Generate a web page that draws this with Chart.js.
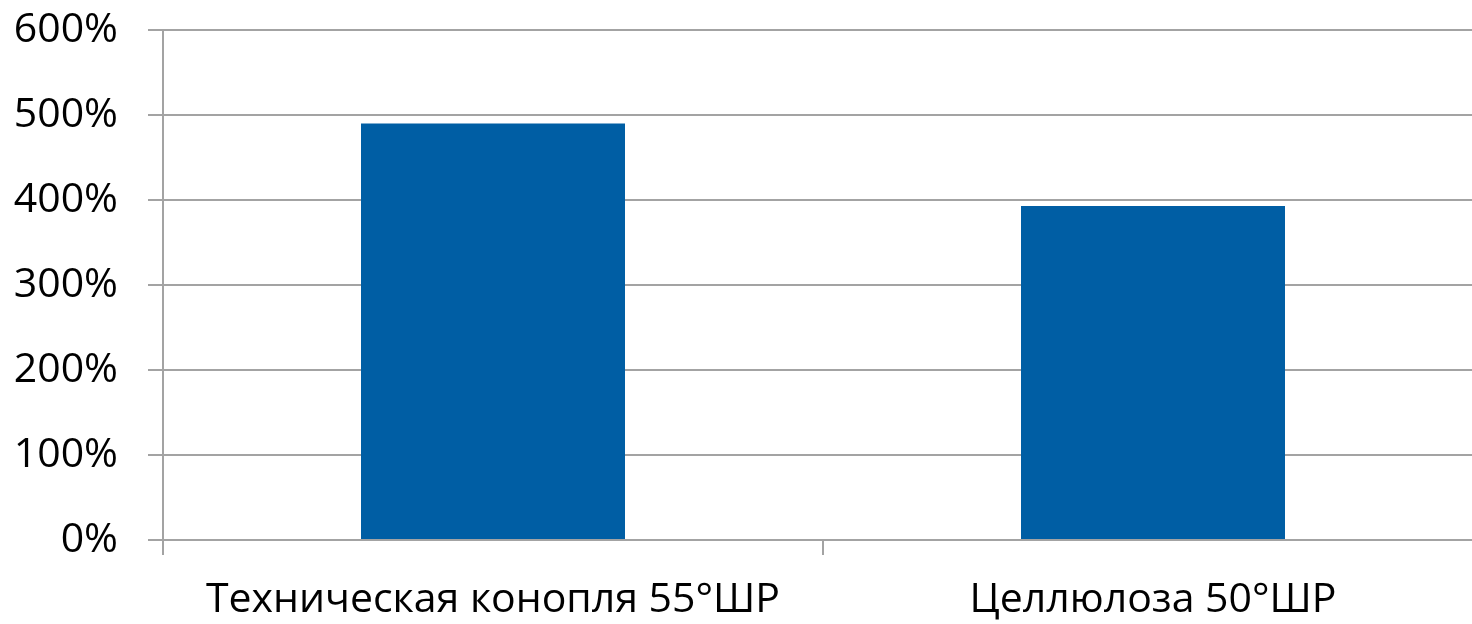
<!DOCTYPE html>
<html>
<head>
<meta charset="utf-8">
<script src="https://cdn.jsdelivr.net/npm/chart.js@4"></script>
<style>
    html, body { margin: 0; padding: 0; background: #fff; overflow: hidden; }
    /* 圖表右側略超出畫面 */
    #wrap { width: 1483px; height: 624px; }
</style>
</head>
<body>
<div id="wrap"><canvas id="myChart"></canvas></div>
<script>
// 資料區 start↓↓------------------------------------
const categories = ['Техническая конопля 55°ШР', 'Целлюлоза 50°ШР'];
const values = [490, 393]; // %
const yTicks = [0, 100, 200, 300, 400, 500, 600];
// 資料區 end↑↑------------------------------------

const gridColor = '#a3a3a3';
const fontFamily = '"Open Sans", "Noto Sans", sans-serif';

let ctx = document.getElementById('myChart');
let myChart = new Chart(ctx, {
    type: 'bar',
    data: {
        labels: categories,
        datasets: [{
            data: values,
            backgroundColor: '#005ea4',
            borderWidth: 0,
            barPercentage: 0.4,
            categoryPercentage: 1,
        }]
    },
    options: {
        responsive: true,
        maintainAspectRatio: false,
        animation: false,
        layout: {
            padding: { top: 30, right: 0, bottom: 0, left: 0 }
        },
        plugins: {
            legend: { display: false },
            tooltip: { enabled: false },
        },
        scales: {
            x: {
                grid: {
                    drawOnChartArea: false,
                    tickLength: 15,
                    lineWidth: 2,
                    // 最右邊的刻度 (沒有 index) 不畫
                    color: (c) => c.index === undefined ? 'rgba(0,0,0,0)' : gridColor,
                },
                border: { display: true, color: gridColor, width: 2 },
                ticks: {
                    color: '#000',
                    padding: 21,
                    maxRotation: 0,
                    font: { family: fontFamily, size: 41 },
                },
                afterFit: (axis) => { axis.height = 84; },
            },
            y: {
                min: 0,
                max: 600,
                afterBuildTicks: (axis) => { axis.ticks = yTicks.map(v => ({ value: v })); },
                grid: {
                    color: gridColor,
                    lineWidth: 2,
                    tickLength: 15,
                },
                border: { display: true, color: gridColor, width: 2 },
                ticks: {
                    color: '#000',
                    padding: 30,
                    font: { family: fontFamily, size: 41 },
                    callback: (v) => v + '%',
                },
                afterFit: (axis) => {
                    axis.width = 163;
                    // 上下不要額外留白
                    axis.paddingTop = 0;
                    axis.paddingBottom = 0;
                },
            }
        }
    }
});
</script>
</body>
</html>
